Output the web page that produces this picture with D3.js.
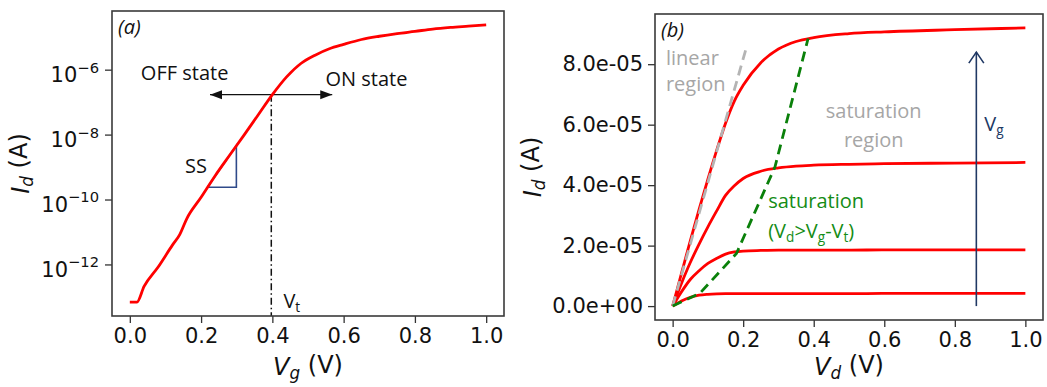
<!DOCTYPE html>
<html>
<head>
<meta charset="utf-8">
<script src="https://cdn.jsdelivr.net/npm/d3@7"></script>
<style>
body { margin: 0; background: #fff; }
text { font-family: "DejaVu Sans", sans-serif; }
.note { font-family: "Open Sans", sans-serif; }
</style>
</head>
<body>
<svg id="chart" width="1047" height="387"></svg>
<script>
// ---- panel (a): transfer curve Id(Vg), log scale
var vg  = [0, 0.02, 0.04, 0.08, 0.12, 0.14, 0.16, 0.20, 0.24, 0.28, 0.32, 0.36, 0.40,
           0.44, 0.48, 0.52, 0.56, 0.60, 0.65, 0.70, 0.75, 0.80, 0.85, 0.90, 0.95, 1.00];
var idA = [6.9e-14, 6.9e-14, 2.1e-13, 8.5e-13, 4.0e-12, 8.3e-12, 2.6e-11, 1.17e-10, 5.5e-10,
           2.3e-9, 9.5e-9, 4.0e-8, 1.7e-7, 6.0e-7, 1.55e-6, 2.8e-6, 4.4e-6, 6.0e-6, 8.5e-6,
           1.07e-5, 1.29e-5, 1.51e-5, 1.78e-5, 2.0e-5, 2.19e-5, 2.4e-5];
var expTicksA = [-12, -10, -8, -6];
var vgTicks = [0, 0.2, 0.4, 0.6, 0.8, 1.0];
var vt = 0.397, idVt = 1.7e-7;
var ssX = [0.218, 0.299], ssY = [2.4e-10, 4.6e-9];
var arrowVg = [0.225, 0.568];

// ---- panel (b): output curves Id(Vd)
var vd   = [0, 0.025, 0.05, 0.075, 0.1, 0.125, 0.15, 0.175, 0.2, 0.25, 0.3, 0.35, 0.4, 0.5, 0.6, 0.8, 1.0];
var idB1 = [0, 1.08e-5, 2.16e-5, 3.2e-5, 4.2e-5, 5.16e-5, 6.05e-5, 6.78e-5, 7.3e-5, 8.05e-5, 8.5e-5,
            8.75e-5, 8.88e-5, 9.01e-5, 9.07e-5, 9.14e-5, 9.2e-5];
var idB2 = [0, 0.75e-5, 1.44e-5, 2.05e-5, 2.62e-5, 3.15e-5, 3.66e-5, 3.98e-5, 4.22e-5, 4.46e-5, 4.57e-5,
            4.63e-5, 4.66e-5, 4.69e-5, 4.71e-5, 4.73e-5, 4.75e-5];
var idB3 = [0, 0.47e-5, 0.88e-5, 1.17e-5, 1.41e-5, 1.58e-5, 1.72e-5, 1.79e-5, 1.82e-5, 1.84e-5, 1.85e-5,
            1.85e-5, 1.85e-5, 1.85e-5, 1.86e-5, 1.86e-5, 1.86e-5];
var idB4 = [0, 0.17e-5, 0.29e-5, 0.36e-5, 0.39e-5, 0.405e-5, 0.41e-5, 0.41e-5, 0.41e-5, 0.41e-5, 0.41e-5,
            0.41e-5, 0.41e-5, 0.41e-5, 0.42e-5, 0.42e-5, 0.42e-5];
var satVd = [0, 0.077, 0.181, 0.29, 0.384];
var satId = [0, 0.42e-5, 1.74e-5, 4.6e-5, 8.85e-5];
var linVd = [0, 0.211];
var linId = [0, 8.63e-5];
var idTicksB = [0, 2e-5, 4e-5, 6e-5, 8e-5];
var vdTicks = [0, 0.2, 0.4, 0.6, 0.8, 1.0];
var arrowVgX = 0.861, arrowVgY = [0, 8.4e-5];

var svg = d3.select("#chart");
var RED = "#ff0000", NAVY = "#203864";
var frameA = {l: 112, r: 504, t: 11, b: 316};
var frameB = {l: 655, r: 1043, t: 14, b: 320};
var NOTE = 20;

function pad(ext) { var d = (ext[1] - ext[0]) * 0.05; return [ext[0] - d, ext[1] + d]; }

function sciFmt(d) {
    var p = d.toExponential(1).split("e");
    var n = +p[1];
    return p[0] + "e" + (n < 0 ? "-" : "+") + String(Math.abs(n)).padStart(2, "0");
}

function styleAxis(g) {
    g.select(".domain").remove();
    g.selectAll(".tick line").attr("stroke", "#333").attr("stroke-width", 1.3);
    g.selectAll(".tick text").attr("fill", "#111").attr("font-size", 21)
        .attr("font-family", "DejaVu Sans");
}

function frame(f) {
    svg.append("rect").attr("x", f.l).attr("y", f.t)
        .attr("width", f.r - f.l).attr("height", f.b - f.t)
        .attr("fill", "none").attr("stroke", "#3a3a3a").attr("stroke-width", 1.6);
}

// mathtext-like label: italic symbol + italic subscript + " (unit)"
function axisLabel(g, sym, sub, unit) {
    var t = g.append("text").attr("font-size", 24).attr("fill", "#111").attr("text-anchor", "middle");
    t.append("tspan").attr("font-style", "italic").text(sym);
    t.append("tspan").attr("font-style", "italic").attr("font-size", "0.7em").attr("dy", "0.25em").text(sub);
    t.append("tspan").attr("dy", "-0.25em").text("\u00a0(" + unit + ")");
    return t;
}

// note with subscripts: parts = [[text, isSub], ...]
function note(g, x, y, color, parts) {
    var t = g.append("text").attr("class", "note").attr("x", x).attr("y", y)
        .attr("font-size", NOTE).attr("fill", color);
    var down = false;
    parts.forEach(function(p) {
        var ts = t.append("tspan").text(p[0]);
        if (p[1]) { ts.attr("font-size", "0.68em").attr("dy", "0.3em"); down = true; }
        else if (down) { ts.attr("dy", "-0.2em"); down = false; }
    });
    return t;
}

var defs = svg.append("defs");
defs.append("marker").attr("id", "tri").attr("viewBox", "0 0 12 10")
    .attr("refX", 12).attr("refY", 5).attr("markerWidth", 12).attr("markerHeight", 10)
    .attr("markerUnits", "userSpaceOnUse").attr("orient", "auto-start-reverse")
    .append("path").attr("d", "M0,0.5 L12,5 L0,9.5 Z").attr("fill", "#111");

// ================= panel (a)
var xA = d3.scaleLinear().domain(pad(d3.extent(vg))).range([frameA.l, frameA.r]);
var logExt = pad(d3.extent(idA, function(d) { return Math.log10(d); }));
var yA = d3.scaleLog().domain([Math.pow(10, logExt[0]), Math.pow(10, logExt[1])]).range([frameA.b, frameA.t]);

var gA = svg.append("g");
gA.append("g").attr("transform", "translate(0," + frameA.b + ")")
    .call(d3.axisBottom(xA).tickValues(vgTicks).tickFormat(d3.format(".1f")).tickSize(7).tickPadding(5))
    .call(styleAxis);
var yAxA = gA.append("g").attr("transform", "translate(" + frameA.l + ",0)")
    .call(d3.axisLeft(yA).tickValues(expTicksA.map(function(e) { return Math.pow(10, e); }))
        .tickFormat(function() { return ""; }).tickSize(7).tickPadding(6))
    .call(styleAxis);
yAxA.selectAll(".tick text").each(function(d) {
    var t = d3.select(this);
    t.text("10");
    t.append("tspan").attr("font-size", "0.7em").attr("dy", "-0.62em")
        .text("\u2212" + Math.abs(Math.round(Math.log10(d))));
}).attr("dy", "0.55em");

// SS triangle
gA.append("path")
    .attr("d", d3.line()([[xA(ssX[0]), yA(ssY[0])], [xA(ssX[1]), yA(ssY[0])], [xA(ssX[1]), yA(ssY[1])], [xA(ssX[0]), yA(ssY[0])]]))
    .attr("fill", "none").attr("stroke", "#2f4a8a").attr("stroke-width", 1.6);

// Vt dash-dot line
gA.append("line").attr("x1", xA(vt)).attr("x2", xA(vt)).attr("y1", yA(idVt)).attr("y2", frameA.b)
    .attr("stroke", "#111").attr("stroke-width", 1.5).attr("stroke-dasharray", "7,3,1.5,3");

// OFF/ON double arrow
gA.append("line").attr("x1", xA(arrowVg[0])).attr("x2", xA(arrowVg[1]))
    .attr("y1", yA(idVt)).attr("y2", yA(idVt))
    .attr("stroke", "#111").attr("stroke-width", 1.2)
    .attr("marker-start", "url(#tri)").attr("marker-end", "url(#tri)");

gA.append("path").datum(d3.zip(vg, idA))
    .attr("d", d3.line().x(function(d) { return xA(d[0]); }).y(function(d) { return yA(d[1]); }).curve(d3.curveMonotoneX))
    .attr("fill", "none").attr("stroke", RED).attr("stroke-width", 2.8);

frame(frameA);

gA.append("text").attr("class", "note").attr("x", frameA.l + 6).attr("y", frameA.t + 23)
    .attr("font-size", 20).attr("font-style", "italic").attr("fill", "#111").text("(a)");
note(gA, xA(0.031), yA(Math.pow(10, -6.31)), "#111", [["OFF state"]]);
note(gA, xA(0.549), yA(Math.pow(10, -6.49)), "#111", [["ON state"]]);
note(gA, xA(0.155), yA(Math.pow(10, -9.17)), "#111", [["SS"]]);
note(gA, xA(0.431), yA(Math.pow(10, -13.35)), "#111", [["V"], ["t", 1]]);

axisLabel(gA, "V", "g", "V").attr("x", (frameA.l + frameA.r) / 2).attr("y", 375);
axisLabel(gA, "I", "d", "A").attr("transform", "translate(29," + ((frameA.t + frameA.b) / 2) + ") rotate(-90)");

// ================= panel (b)
var xB = d3.scaleLinear().domain(pad(d3.extent(vd))).range([frameB.l, frameB.r]);
var yB = d3.scaleLinear().domain(pad([0, d3.max(idB1)])).range([frameB.b, frameB.t]);

var gB = svg.append("g");
gB.append("g").attr("transform", "translate(0," + frameB.b + ")")
    .call(d3.axisBottom(xB).tickValues(vdTicks).tickFormat(d3.format(".1f")).tickSize(7).tickPadding(5))
    .call(styleAxis);
gB.append("g").attr("transform", "translate(" + frameB.l + ",0)")
    .call(d3.axisLeft(yB).tickValues(idTicksB).tickFormat(sciFmt).tickSize(7).tickPadding(5))
    .call(styleAxis);

var lineB = d3.line().x(function(d) { return xB(d[0]); }).y(function(d) { return yB(d[1]); });
[idB1, idB2, idB3, idB4].forEach(function(s) {
    gB.append("path").datum(d3.zip(vd, s))
        .attr("d", lineB.curve(d3.curveMonotoneX))
        .attr("fill", "none").attr("stroke", RED).attr("stroke-width", 2.8);
});
gB.append("path").datum(d3.zip(linVd, linId)).attr("d", lineB.curve(d3.curveLinear))
    .attr("fill", "none").attr("stroke", "#b4b4b4").attr("stroke-width", 2.8).attr("stroke-dasharray", "10,6");
gB.append("path").datum(d3.zip(satVd, satId)).attr("d", lineB.curve(d3.curveLinear))
    .attr("fill", "none").attr("stroke", "#0a800a").attr("stroke-width", 2.8).attr("stroke-dasharray", "10,6");

// Vg arrow
var ax = xB(arrowVgX), ayTop = yB(arrowVgY[1]);
gB.append("line").attr("x1", ax).attr("x2", ax).attr("y1", yB(arrowVgY[0])).attr("y2", ayTop)
    .attr("stroke", NAVY).attr("stroke-width", 1.6);
gB.append("path").attr("d", d3.line()([[ax - 7.5, ayTop + 11], [ax, ayTop], [ax + 7.5, ayTop + 11]]))
    .attr("fill", "none").attr("stroke", NAVY).attr("stroke-width", 1.6);

frame(frameB);

gB.append("text").attr("class", "note").attr("x", frameB.l + 6).attr("y", frameB.t + 23)
    .attr("font-size", 20).attr("font-style", "italic").attr("fill", "#111").text("(b)");
note(gB, xB(-0.019), yB(7.97e-5), "#a6a6a6", [["linear"]]);
note(gB, xB(-0.019), yB(7.12e-5), "#a6a6a6", [["region"]]);
note(gB, xB(0.57), yB(6.21e-5), "#a6a6a6", [["saturation"]]).attr("text-anchor", "middle");
note(gB, xB(0.57), yB(5.27e-5), "#a6a6a6", [["region"]]).attr("text-anchor", "middle");
note(gB, xB(0.271), yB(3.23e-5), "#158c15", [["saturation"]]);
note(gB, xB(0.271), yB(2.26e-5), "#158c15",
    [["(V"], ["d", 1], [">V"], ["g", 1], ["-V"], ["t", 1], [")"]]);
note(gB, ax + 8, yB(5.8e-5), NAVY, [["V"], ["g", 1]]);

axisLabel(gB, "V", "d", "V").attr("x", (frameB.l + frameB.r) / 2).attr("y", 375);
axisLabel(gB, "I", "d", "A").attr("transform", "translate(541," + ((frameB.t + frameB.b) / 2) + ") rotate(-90)");
</script>
</body>
</html>
